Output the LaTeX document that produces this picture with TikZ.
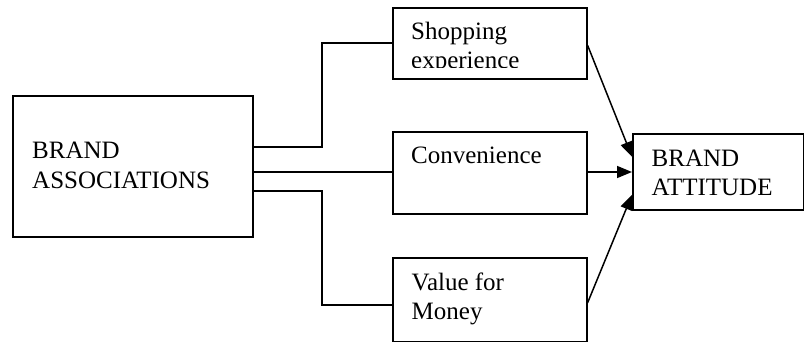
\documentclass[tikz,border=0pt]{standalone}
\usepackage{fontspec}
\setmainfont{Liberation Serif}
\usetikzlibrary{arrows.meta,calc}
\newcommand{\lines}[1]{\begin{tabular}[t]{@{}l@{}}#1\end{tabular}}
\begin{document}
\begin{tikzpicture}[x=1pt,y=-1pt,
  box/.style={draw=black,line width=1.6pt,rectangle,inner sep=0pt,anchor=north west},
  txt/.style={anchor=base west,inner sep=0pt,font=\fontsize{25}{29.5}\selectfont},
  wire/.style={line width=1.6pt},
  arr/.style={line width=1.5pt,-{Triangle[length=15pt,width=12pt]}}]
\useasboundingbox (0,0) rectangle (804,342);
% boxes
\node[box,minimum width=240pt,minimum height=141pt] (assoc) at (12,95) {};
\node[box,minimum width=194pt,minimum height=71pt] (shop) at (392,7) {};
\node[box,minimum width=194pt,minimum height=82pt] (conv) at (392,131) {};
\node[box,minimum width=194pt,minimum height=84pt] (val) at (392,257) {};
\node[box,minimum width=171pt,minimum height=76pt] (att) at (632,133) {};
% labels
\node[txt] (assocT) at (32,159) {\lines{BRAND\\ASSOCIATIONS}};
\begin{scope}
  \clip (shop.north west) rectangle ($(shop.east |- 0,68)$);
  \node[txt] (shopT) at (411,39.5) {\lines{Shopping\\experience}};
\end{scope}
\node[txt] (convT) at (411,164) {Convenience};
\node[txt] (valT) at (411.5,290) {\lines{Value for\\Money}};
\node[txt] (attT) at (651.5,166.5) {\lines{BRAND\\ATTITUDE}};
% elbow connectors
\coordinate (elbow) at (322,0);
\draw[wire] ($(assoc.east |- 0,147)$) -| (elbow |- shop.west) -- (shop.west);
\draw[wire] ($(assoc.east |- 0,172)$) -- (conv.west |- 0,172);
\draw[wire] ($(assoc.east |- 0,191)$) -| ($(elbow |- val.west)+(0,5)$) -- ($(val.west)+(0,5)$);
% arrows into the attitude box
\draw[arr] ($(shop.east)+(0,2)$) -- ($(att.west)+(0,-15)$);
\draw[arr] (conv.east |- 0,172) -- (att.west |- 0,172);
\draw[arr] ($(val.east)+(0,3)$) -- ($(att.west)+(0,23)$);
\end{tikzpicture}
\end{document}
